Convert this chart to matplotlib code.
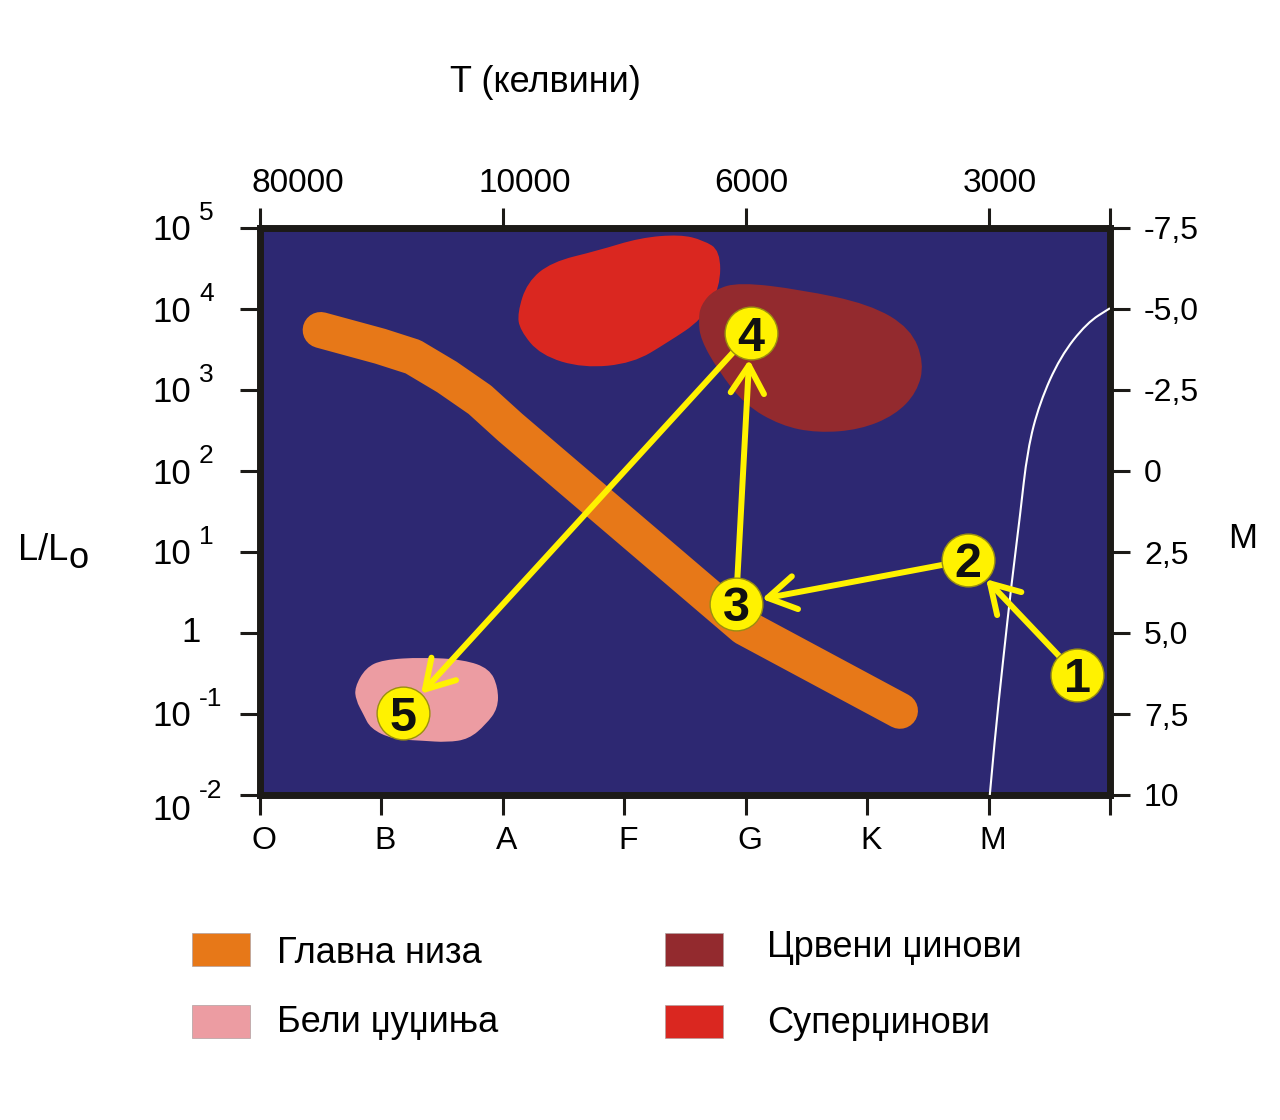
import matplotlib.pyplot as plt
import matplotlib.patches as mpatches
from matplotlib.path import Path
from matplotlib.patches import PathPatch
from matplotlib.transforms import offset_copy, blended_transform_factory, ScaledTranslation

plt.rcParams['font.family'] = ['Liberation Sans', 'DejaVu Sans']

W, H = 1280, 1120

# axes labels / ticks
spectral_classes = ['O', 'B', 'A', 'F', 'G', 'K', 'M', '']
temp_ticks = [0, 2, 4, 6, 7]
temp_labels = ['80000', '10000', '6000', '3000']
temp_label_x = [0.31, 2.18, 4.05, 6.09]
lum_exponents = [-2, -1, 0, 1, 2, 3, 4, 5]
mag_values = [-7.5, -5.0, -2.5, 0, 2.5, 5.0, 7.5, 10]
mag_labels = ['-7,5', '-5,0', '-2,5', '0', '2,5', '5,0', '7,5', '10']

# main sequence centre line (spectral index, log L)
ms_x = [0.50, 0.99, 1.26, 1.54, 1.81, 2.06, 3.99, 5.27]
ms_y = [3.74, 3.54, 3.41, 3.16, 2.88, 2.54, 0.07, -0.96]

# supergiants outline
sg_x = [2.12, 2.20, 2.40, 2.78, 3.13, 3.46, 3.65, 3.79, 3.79, 3.64, 3.36, 3.07, 2.66, 2.31, 2.14]
sg_y = [3.95, 4.33, 4.58, 4.72, 4.88, 4.92, 4.85, 4.72, 4.27, 3.87, 3.59, 3.33, 3.27, 3.43, 3.74]

# red giants outline
rg_x = [3.61, 3.63, 3.74, 3.95, 4.45, 5.02, 5.36, 5.47, 5.41, 5.23, 4.94, 4.59, 4.29, 3.99, 3.77, 3.63]
rg_y = [3.86, 4.05, 4.24, 4.33, 4.24, 4.06, 3.76, 3.33, 2.97, 2.69, 2.51, 2.47, 2.56, 2.82, 3.25, 3.62]

# white dwarfs outline
wd_x = [0.78, 0.87, 1.01, 1.34, 1.68, 1.89, 1.96, 1.96, 1.86, 1.72, 1.54, 1.34, 1.09, 0.91, 0.85, 0.79]
wd_y = [-0.67, -0.43, -0.33, -0.30, -0.33, -0.44, -0.67, -0.93, -1.13, -1.31, -1.35, -1.33, -1.31, -1.18, -1.00, -0.83]

# white track on the right
track_x = [6.01, 6.05, 6.12, 6.19, 6.26, 6.32, 6.42, 6.59, 6.81, 7.00]
track_y = [-2.00, -1.32, -0.33, 0.62, 1.46, 2.26, 2.84, 3.41, 3.83, 4.01]

# numbered stages of the evolution path
stage_x = [6.73, 5.83, 3.92, 4.04, 1.18]
stage_y = [-0.52, 0.90, 0.36, 3.70, -0.99]

legend_labels = ['Главна низа', 'Бели џуџиња', 'Црвени џинови', 'Суперџинови']

navy = '#2d2872'
orange = '#e77818'
pink = '#ec9ca2'
darkred = '#932a2e'
red = '#da2720'
yellow = '#fff200'
border = '#1c1a17'
legend_colors = [orange, pink, darkred, red]


def blob_path(xs, ys):
    # closed outline drawn with quadratic curves through the edge midpoints
    pts = list(zip(xs, ys))
    n = len(pts)
    mids = [((pts[i][0] + pts[(i + 1) % n][0]) / 2, (pts[i][1] + pts[(i + 1) % n][1]) / 2)
            for i in range(n)]
    verts, codes = [mids[-1]], [Path.MOVETO]
    for i in range(n):
        verts += [pts[i], mids[i]]
        codes += [Path.CURVE3, Path.CURVE3]
    verts.append(mids[-1])
    codes.append(Path.CLOSEPOLY)
    return Path(verts, codes)


def curve_path(xs, ys):
    pts = list(zip(xs, ys))
    verts, codes = [pts[0]], [Path.MOVETO]
    for i in range(1, len(pts) - 1):
        mid = ((pts[i][0] + pts[i + 1][0]) / 2, (pts[i][1] + pts[i + 1][1]) / 2)
        verts += [pts[i], mid]
        codes += [Path.CURVE3, Path.CURVE3]
    verts.append(pts[-1])
    codes.append(Path.LINETO)
    return Path(verts, codes)


fig = plt.figure(figsize=(W / 100, H / 100), dpi=100)
ax = fig.add_axes([260 / W, 325 / H, 850 / W, 567 / H])
ax.set_facecolor(navy)
ax.set_xlim(0, 7)
ax.set_ylim(-2, 5)

ax.add_patch(PathPatch(blob_path(sg_x, sg_y), fc=red, ec='none', zorder=1))
ax.add_patch(PathPatch(blob_path(rg_x, rg_y), fc=darkred, ec='none', zorder=2))
ax.add_patch(PathPatch(blob_path(wd_x, wd_y), fc=pink, ec='none', zorder=2))
ax.plot(ms_x, ms_y, color=orange, lw=26, solid_capstyle='round',
        solid_joinstyle='round', zorder=3)
ax.add_patch(PathPatch(curve_path(track_x, track_y), fill=False, ec='white', lw=1.5,
                       zorder=3))

for i in range(len(stage_x) - 1):
    ax.annotate('', xy=(stage_x[i + 1], stage_y[i + 1]), xytext=(stage_x[i], stage_y[i]),
                arrowprops=dict(arrowstyle='->,head_length=1.0,head_width=0.6',
                                mutation_scale=20, lw=4.3, color=yellow,
                                shrinkA=0, shrinkB=19), zorder=4)

ax.scatter(stage_x, stage_y, s=38 ** 2, c=yellow, edgecolors='#9a8f10',
           linewidths=1, zorder=5)
for n, (x, y) in enumerate(zip(stage_x, stage_y), start=1):
    ax.annotate(str(n), xy=(x, y), xytext=(0, -12.5), textcoords='offset points',
                ha='center', va='baseline', fontsize=35, fontweight='bold',
                color='#111111', zorder=6)

for s in ax.spines.values():
    s.set_linewidth(5)
    s.set_color(border)

# bottom: spectral classes
ax.set_xticks(range(len(spectral_classes)))
ax.set_xticklabels(spectral_classes, fontsize=23)
ax.tick_params(axis='x', length=14.4, width=2.2, pad=8, color=border)
shift = ScaledTranslation(4 / 100, 0, fig.dpi_scale_trans)
for lab in ax.get_xticklabels():
    lab.set_transform(lab.get_transform() + shift)

# left: luminosity
ax.set_yticks(lum_exponents)
ax.set_yticklabels([])
ax.tick_params(axis='y', length=14.4, width=2.2, color=border)
ytrans = ax.get_yaxis_transform()
for e in lum_exponents:
    if e == 0:
        ax.text((201 - 260) / 850, e, '1', transform=ytrans, ha='right', va='center',
                fontsize=25)
        continue
    dy_base = -15 if e == -2 else -3
    dy_sup = -3 if e == -2 else 8
    ax.text((191 - 260) / 850, e, '10', ha='right', va='center', fontsize=25,
            transform=offset_copy(ytrans, fig=fig, y=dy_base, units='dots'))
    ax.text((199 - 260) / 850, e, str(e), ha='left', va='baseline', fontsize=19,
            transform=offset_copy(ytrans, fig=fig, y=dy_sup, units='dots'))

# top: temperature
secx = ax.secondary_xaxis('top')
secx.set_xticks(temp_ticks)
secx.set_xticklabels([])
secx.tick_params(length=14.4, width=2.2, color=border)
secx.spines['top'].set_visible(False)
ttrans = blended_transform_factory(ax.transData, fig.transFigure)
for x, lab in zip(temp_label_x, temp_labels):
    ax.text(x, 1 - 192 / H, lab, transform=ttrans, ha='center', va='baseline',
            fontsize=24)

# right: absolute magnitude
secy = ax.secondary_yaxis('right', functions=(lambda y: 5 - 2.5 * y,
                                               lambda m: (5 - m) / 2.5))
secy.set_yticks(mag_values)
secy.set_yticklabels(mag_labels, fontsize=23)
secy.tick_params(length=14.4, width=2.2, pad=10, color=border)
secy.spines['right'].set_visible(False)

fig.text(545 / W, 1 - 92 / H, 'T (келвини)', ha='center', va='baseline', fontsize=26)
fig.text(18 / W, 1 - 560 / H, 'L/L', ha='left', va='baseline', fontsize=26)
fig.text(68 / W, 1 - 568 / H, 'o', ha='left', va='baseline', fontsize=26)
fig.text(1228 / W, 1 - 548 / H, 'M', ha='left', va='baseline', fontsize=25)

# legend
box_pos = [(192, 933), (192, 1005), (665, 933), (665, 1005)]
text_pos = [(277, 963), (277, 1032), (767, 957), (767, 1033)]
for lab, col, (bx, by), (tx, ty) in zip(legend_labels, legend_colors, box_pos, text_pos):
    fig.add_artist(mpatches.Rectangle((bx / W, 1 - (by + 33) / H), 58 / W, 33 / H,
                                      transform=fig.transFigure, fc=col,
                                      ec='#b0a0a0', lw=0.5))
    fig.text(tx / W, 1 - ty / H, lab, ha='left', va='baseline', fontsize=26)

fig.savefig('out.png', dpi=100)
